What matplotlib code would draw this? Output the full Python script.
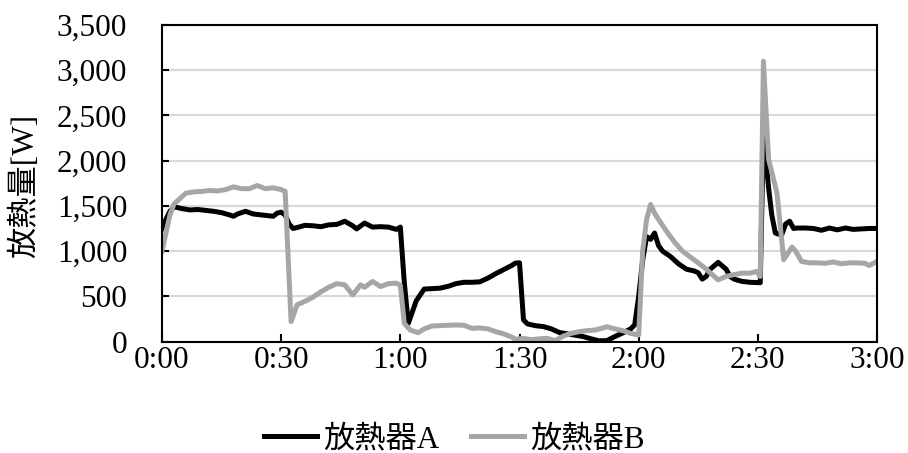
import matplotlib
matplotlib.use('Agg')
import matplotlib.pyplot as plt
from matplotlib.ticker import FuncFormatter

plt.rcParams['font.family'] = ['Liberation Serif', 'Noto Sans CJK JP']

# time in minutes, heat output in W
t_a = [0, 1, 2, 3, 5, 7, 9, 11, 13, 15, 17, 18, 19, 21, 23, 25, 27, 28, 29, 30, 31, 32, 33,
       34, 36, 38, 40, 42, 44, 46, 48, 49, 51, 53, 55, 57, 59, 60, 61, 62, 64, 66, 68, 70,
       72, 74, 76, 78, 80, 82, 84, 86, 88, 89, 90, 91, 92, 94, 96, 98, 100, 102, 104, 106,
       108, 110, 112, 114, 116, 118, 119, 120, 121, 122, 123, 124, 125, 126, 128, 130, 132,
       134, 135, 136, 137, 138, 140, 142, 143, 144, 146, 148, 150.6, 151.4, 152.7, 153.5,
       154.4, 155, 156, 157, 158, 159, 160, 162, 164, 166, 168, 170, 172, 174, 176, 178, 180]
q_a = [1250, 1350, 1440, 1490, 1470, 1455, 1460, 1450, 1440, 1425, 1400, 1385, 1410, 1440,
       1410, 1400, 1390, 1385, 1420, 1430, 1400, 1300, 1250, 1260, 1285, 1280, 1270, 1290,
       1295, 1330, 1280, 1245, 1310, 1265, 1270, 1265, 1240, 1265, 650, 200, 450, 580, 585,
       590, 610, 640, 655, 655, 660, 700, 750, 795, 840, 868, 870, 240, 195, 175, 165, 140,
       100, 85, 70, 55, 30, 8, 10, 55, 95, 140, 185, 500, 900, 1160, 1130, 1200, 1060, 1000,
       940, 860, 800, 780, 760, 690, 720, 800, 875, 800, 720, 690, 665, 655, 650, 2300, 1700,
       1400, 1200, 1190, 1180, 1300, 1330, 1250, 1255, 1255, 1250, 1230, 1255, 1235, 1255,
       1240, 1245, 1250, 1250]

t_b = [0, 1, 2, 3, 4, 5, 6, 8, 10, 12, 14, 16, 18, 20, 22, 24, 26, 28, 30, 31, 32.5, 34, 36,
       38, 40, 42, 44, 46, 48, 50, 51, 53, 55, 57, 59, 60, 61, 62.5, 64.5, 66, 68, 70, 72, 74,
       76, 78, 80, 82, 84, 86, 88, 89, 91, 93, 95, 97, 99, 101, 103, 105, 107, 109, 111, 112,
       114, 116, 118, 120, 121, 122, 123, 124, 125, 127, 129, 131, 133, 135, 137, 138, 140,
       142, 144, 146, 148, 149.7, 150.6, 151.4, 152.7, 154.8, 156.5, 158.6, 159.5, 161, 163,
       165, 167, 169, 171, 173, 175, 177, 178, 180]
q_b = [1000, 1200, 1400, 1520, 1560, 1600, 1640, 1655, 1660, 1670, 1665, 1680, 1710, 1690,
       1690, 1725, 1690, 1700, 1680, 1660, 220, 405, 445, 490, 550, 600, 640, 627, 516, 627,
       600, 664, 608, 640, 645, 620, 200, 127, 98, 140, 172, 175, 180, 183, 180, 146, 150,
       140, 109, 85, 50, 24, 35, 20, 30, 35, 9, 60, 90, 109, 120, 127, 150, 164, 140, 120,
       90, 72, 1000, 1350, 1515, 1420, 1350, 1220, 1100, 1000, 934, 870, 800, 760, 682, 720,
       740, 756, 756, 775, 719, 3100, 2015, 1645, 905, 1045, 1000, 886, 870, 870, 865, 880,
       860, 870, 870, 865, 840, 886]

x_ticks = [0, 30, 60, 90, 120, 150, 180]
x_labels = ['0:00', '0:30', '1:00', '1:30', '2:00', '2:30', '3:00']
y_ticks = [0, 500, 1000, 1500, 2000, 2500, 3000, 3500]

fig = plt.figure(figsize=(9.08, 4.53), dpi=100)
ax = fig.add_axes([0.1784, 0.2461, 0.7875, 0.6987])

ax.plot(t_a, q_a, color='black', lw=3.6, label='放熱器A', solid_joinstyle='round')
ax.plot(t_b, q_b, color='#a6a6a6', lw=3.6, label='放熱器B', solid_joinstyle='round')

ax.set_xlim(0, 180)
ax.set_ylim(0, 3500)
ax.set_xticks(x_ticks)
ax.set_xticklabels(x_labels)
ax.set_yticks(y_ticks)
ax.yaxis.set_major_formatter(FuncFormatter(lambda v, p: f'{int(v):,}'))
ax.grid(axis='y', color='#d9d9d9', lw=1.5)
ax.set_axisbelow(True)
for s in ax.spines.values():
    s.set_linewidth(1.5)
ax.tick_params(axis='both', direction='in', width=1.5, labelsize=22.5)
ax.tick_params(axis='x', length=6, pad=3)
ax.tick_params(axis='y', length=5, pad=25)

ax.set_ylabel('放熱量[W]', fontsize=22.5)
ax.yaxis.set_label_coords(-0.17, 0.49)

fig.legend(loc='lower center', bbox_to_anchor=(0.5, -0.065), ncol=2, frameon=False,
           fontsize=22.5, handlelength=1.7, handletextpad=0.2, columnspacing=1.0)

plt.savefig('out.png', dpi=100)
